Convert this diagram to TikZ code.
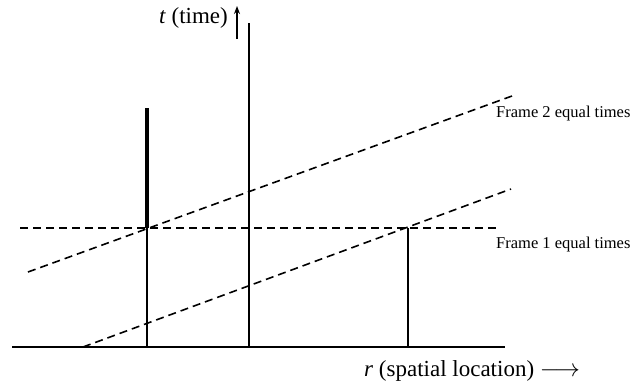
\documentclass[tikz,border=0pt]{standalone}
\usepackage{fontspec}
\setmainfont{Liberation Serif}
\usepackage{tikz}
\usetikzlibrary{arrows.meta,positioning}
\tikzset{
  axisline/.style={line width=2pt},
  wline/.style={line width=2pt},
  wthick/.style={line width=4.5pt},
  simul/.style={line width=1.6pt, dash pattern=on 8pt off 5pt},
  biglbl/.style={font=\fontsize{23}{26}\selectfont, inner sep=0pt},
  framelbl/.style={font=\fontsize{16.5}{19}\selectfont, inner sep=0pt, anchor=west},
}
\begin{document}
\begin{tikzpicture}[x=1pt,y=-1pt]
\useasboundingbox (0,0) rectangle (633,389);
% points
\coordinate (ax0) at (12,347);  \coordinate (ax1) at (505,347);
\coordinate (c0) at (249,347);  \coordinate (c1) at (249,23);
\coordinate (wl0) at (147,347); \coordinate (wl1) at (147,228); \coordinate (wl2) at (147,108);
\coordinate (wr0) at (408,347); \coordinate (wr1) at (408,228);
\coordinate (h0) at (20,228);   \coordinate (h1) at (499,228);
\coordinate (f2a) at (28,272);  \coordinate (f2b) at (512,96);
\coordinate (f1a) at (83,347);  \coordinate (f1b) at (511,189);
\coordinate (ta0) at (237,39);  \coordinate (ta1) at (237,6);
% world lines and axis
\draw[axisline] (ax0) -- (ax1);
\draw[wline] (c0) -- (c1);
\draw[wline] (wl0) -- (wl1);
\draw[wthick] (wl1) -- (wl2);
\draw[wline] (wr0) -- (wr1);
% equal-time lines
\draw[simul] (h0) -- (h1);
\draw[simul] (f2a) -- (f2b);
\draw[simul] (f1a) -- (f1b);
% labels
\node[biglbl, anchor=east] (tlbl) at (228,18) {\textit{t} (time)};
\draw[line width=1.6pt, -{Stealth[length=8pt,width=6pt]}] (ta0) -- (ta1);
\node[biglbl, anchor=west] (rlbl) at (364,371) {\textit{r} (spatial location) $\longrightarrow$};
\node[framelbl] (f2lbl) at (496,114) {Frame 2 equal times};
\node[framelbl] (f1lbl) at (496,245) {Frame 1 equal times};
\end{tikzpicture}
\end{document}
